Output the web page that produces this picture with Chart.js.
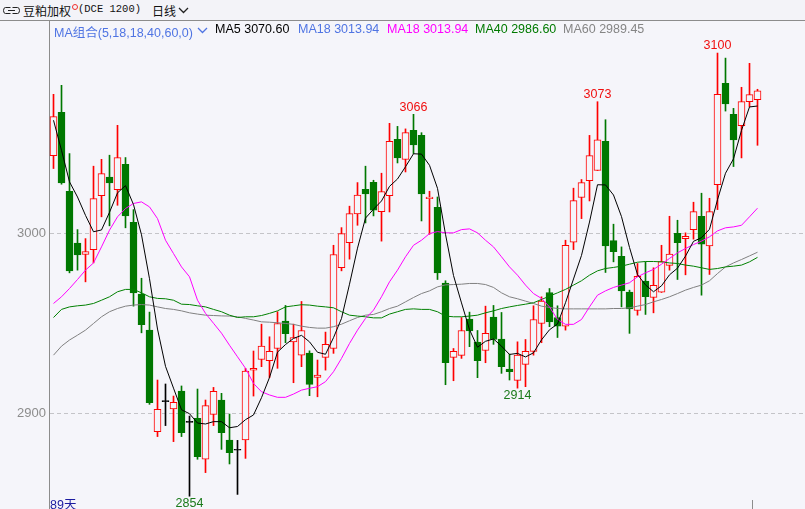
<!DOCTYPE html>
<html lang="zh">
<head>
<meta charset="UTF-8">
<meta name="viewport" content="width=device-width, initial-scale=1.0">
<title>豆粕加权 日线</title>
<script src="https://cdn.jsdelivr.net/npm/chart.js"></script>
<style>
  body { margin: 0; background: #f5f5fa; overflow: hidden; font-family: "Liberation Sans", Arial, "Noto Sans CJK SC", sans-serif; }
  #bar1 { position: absolute; left: 0; top: 0; width: 805px; height: 20px; background: #f3f3f8; border-bottom: 1px solid #8c8c8c; font-size: 12px; }
  #bar1 span, #bar2 span { position: absolute; white-space: nowrap; }
  #bar2 { position: absolute; left: 0; top: 21px; width: 805px; height: 16px; font-size: 12.5px; z-index: 2; }
  #chartBox { position: absolute; left: 0; top: 21px; width: 805px; height: 488px; }
  #days { position: absolute; left: 50px; top: 494px; font-size: 12.5px; color: #1c1ca0; }
  #tick { position: absolute; left: 752px; top: 500px; width: 1px; height: 9px; background: #8c8c8c; }
</style>
</head>
<body>
<div id="bar1">
  <svg style="position:absolute;left:3px;top:6px" width="17" height="9">
    <path d="M7.5 1.5 H2.5 Q0.5 1.5 0.5 4.5 Q0.5 7.5 2.5 7.5 H7.5" fill="none" stroke="#222"/>
    <path d="M9.5 1.5 H14.5 Q16.5 1.5 16.5 4.5 Q16.5 7.5 14.5 7.5 H9.5" fill="none" stroke="#222"/>
    <path d="M5 4.5 H12" stroke="#222"/>
  </svg>
  <span style="left:23px;top:2px;font-family:'Noto Sans CJK SC';color:#111">豆粕加权</span>
  <span style="left:72px;top:4px;width:4px;height:4px;border:1px solid #f03030;border-radius:50%"></span>
  <span style="left:78px;top:3px;font-family:'Liberation Mono',monospace;font-size:10.5px;color:#111">(DCE 1200)</span>
  <span style="left:152px;top:2px;font-family:'Noto Sans CJK SC';color:#111">日线</span>
  <svg style="position:absolute;left:178px;top:7px" width="11" height="7"><polyline points="1,1 5.5,5.5 10,1" fill="none" stroke="#222" stroke-width="1.3"/></svg>
</div>
<div id="bar2">
  <span style="left:54px;top:1px;color:#4f74e3">MA组合(5,18,18,40,60,0)</span>
  <svg style="position:absolute;left:197px;top:6px" width="11" height="7"><polyline points="1,1 5.5,5.5 10,1" fill="none" stroke="#4f74e3" stroke-width="1.3"/></svg>
  <span style="left:215px;top:1px;color:#000">MA5 3070.60</span>
  <span style="left:298px;top:1px;color:#4f74e3">MA18 3013.94</span>
  <span style="left:387px;top:1px;color:#ff00ff">MA18 3013.94</span>
  <span style="left:475px;top:1px;color:#007a00">MA40 2986.60</span>
  <span style="left:563px;top:1px;color:#858585">MA60 2989.45</span>
</div>
<div id="chartBox"><canvas id="kChart"></canvas></div>
<div id="days">89天</div>
<div id="tick"></div>
<script>
// daily OHLC, 89 sessions
var open = [3043.1,3067.1,3023.3,2994.5,2988.2,2990.9,3020.9,3031.1,3024.2,3038.3,
  3006.1,2966.2,2946.2,2889.8,2906.5,2902.4,2912.4,2895.0,2897.2,2874.5,
  2899.4,2907.4,2885.2,2879.5,2885.2,2924.0,2929.9,2929.2,2936.0,2951.2,
  2939.7,2932.3,2933.5,2920.0,2931.1,2936.0,2980.8,2994.8,3010.7,3024.4,
  3028.3,3012.0,3020.9,3052.1,3040.9,3057.1,3054.3,3019.2,3014.4,2972.3,
  2931.1,2932.2,2952.3,2939.6,2934.9,2953.4,2941.2,2924.6,2918.3,2927.2,
  2934.4,2949.9,2967.1,2953.2,2948.4,2995.0,3019.8,3029.2,3034.8,3051.0,
  2995.9,2987.2,2967.3,2957.1,2973.4,2964.3,2967.3,2982.1,3000.0,2996.9,
  3002.0,3009.4,2993.0,3027.0,3083.2,3066.0,3059.7,3073.0,3074.1];
var high = [3077.1,3082.1,3044.2,3002.0,2997.0,3037.2,3041.0,3043.3,3059.9,3042.0,
  3013.1,2975.0,2956.2,2918.5,2916.3,2909.6,2915.2,2898.5,2913.5,2907.4,
  2914.4,2911.1,2899.6,2885.0,2925.0,2934.6,2949.5,2942.5,2956.4,2959.9,
  2949.5,2962.1,2934.7,2929.6,2945.1,2993.3,3003.1,3015.0,3028.1,3037.2,
  3029.4,3033.3,3061.0,3059.3,3057.9,3066.0,3055.8,3023.3,3020.1,2973.6,
  2936.0,2953.2,2956.2,2946.0,2959.5,2959.9,2956.0,2932.9,2939.7,2941.0,
  2959.7,2964.7,2969.3,2959.7,2996.1,3025.0,3029.8,3054.3,3073.0,3063.0,
  3005.0,2992.4,2968.4,2983.2,2984.1,2980.8,2993.3,3009.4,3007.2,3000.2,
  3017.2,3022.2,3019.4,3100.0,3097.2,3069.3,3081.0,3094.3,3079.9];
var low = [3035.9,3027.2,2978.0,2979.5,2973.0,2983.5,3009.1,3004.1,3015.5,3003.0,
  2959.5,2944.7,2905.0,2887.1,2893.2,2884.3,2887.1,2854.0,2874.5,2867.1,
  2893.2,2880.0,2871.9,2855.0,2875.0,2909.6,2925.9,2919.8,2925.0,2939.2,
  2917.0,2925.9,2909.8,2909.2,2924.0,2933.3,2979.1,2985.6,3004.4,3005.7,
  3009.6,2995.6,3011.8,3039.0,3034.0,3044.2,3006.8,2999.4,2974.3,2915.9,
  2918.1,2930.5,2937.0,2919.8,2928.1,2938.3,2922.2,2918.5,2914.0,2914.8,
  2932.3,2939.2,2948.1,2942.1,2946.2,2990.9,3008.1,3017.9,3034.8,2978.2,
  2984.1,2959.1,2944.4,2954.5,2954.9,2955.8,2967.1,2979.5,2974.3,2976.9,
  2996.7,2965.6,2977.1,3013.1,3067.8,3037.0,3041.8,3070.2,3048.8];
var close = [3064.7,3027.9,2979.1,2988.0,2989.8,3019.2,3033.1,3027.9,3042.0,3009.6,
  2966.9,2949.2,2905.9,2902.2,2906.5,2906.1,2889.3,2895.0,2876.0,2904.3,
  2912.2,2889.3,2878.2,2879.5,2923.5,2925.0,2937.3,2934.4,2949.9,2944.2,
  2942.1,2946.0,2916.1,2921.3,2938.3,2988.2,2999.8,3010.9,3021.1,3021.8,
  3012.8,3023.1,3051.0,3041.8,3055.8,3049.0,3021.8,3020.0,2978.0,2928.1,
  2934.4,2946.0,2945.8,2929.2,2944.4,2941.0,2925.9,2923.1,2932.3,2934.4,
  2952.1,2962.3,2950.8,2948.4,2993.2,3018.1,3028.1,3043.1,3051.9,2993.0,
  2989.8,2968.0,2958.0,2976.0,2964.7,2971.0,2984.3,2988.4,2994.8,2998.2,
  3012.0,2993.9,3012.0,3077.1,3071.7,3051.8,3073.0,3076.9,3079.1];

// moving averages
var ma5 = [3062.7,3046.0,3028.5,3020.1,3009.9,3000.8,3001.8,3011.6,3022.4,3026.4,
  3015.9,2999.1,2974.7,2946.8,2926.1,2914.0,2902.0,2899.8,2894.6,2894.1,
  2895.4,2895.4,2892.0,2892.7,2896.5,2899.1,2908.7,2919.9,2934.0,2938.2,
  2941.6,2943.3,2939.7,2933.9,2932.8,2942.0,2952.7,2971.7,2991.7,3008.4,
  3013.3,3017.9,3026.0,3030.1,3036.9,3044.1,3043.9,3037.7,3024.9,2999.4,
  2976.5,2961.3,2946.5,2936.7,2940.0,2941.3,2937.3,2932.7,2933.3,2931.3,
  2933.6,2940.8,2946.4,2949.6,2961.4,2974.6,2987.7,3006.2,3026.9,3026.8,
  3021.2,3009.2,2992.1,2977.0,2971.3,2967.5,2970.8,2976.9,2980.6,2987.3,
  2995.5,2997.5,3002.2,3018.6,3033.3,3041.3,3057.1,3070.1,3070.6];
var ma18 = [2961.0,2964.7,2969.3,2974.3,2979.5,2983.5,2992.4,3001.7,3009.1,3013.7,
  3016.5,3017.4,3014.6,3008.1,2996.1,2988.7,2981.3,2975.8,2962.8,2955.5,
  2950.0,2944.5,2937.8,2931.4,2925.0,2916.6,2912.0,2910.2,2908.9,2908.9,
  2910.7,2912.9,2913.9,2914.8,2917.6,2923.1,2930.5,2938.8,2946.2,2952.7,
  2957.3,2964.7,2973.0,2979.5,2986.9,2993.3,2996.1,2999.8,3000.9,3000.2,
  3000.2,3002.0,3002.4,3000.2,2996.1,2992.4,2986.9,2981.3,2976.7,2971.2,
  2966.5,2963.8,2959.1,2952.1,2949.4,2949.4,2952.1,2959.1,2965.6,2968.0,
  2969.9,2971.2,2972.5,2975.8,2978.0,2979.9,2982.8,2986.0,2989.1,2991.5,
  2993.7,2995.6,2998.0,3001.3,3003.0,3003.5,3004.4,3009.1,3013.9];
var ma40 = [2953.2,2957.7,2959.1,2959.7,2960.1,2961.0,2962.8,2964.7,2967.5,2968.8,
  2968.8,2966.9,2964.7,2963.8,2963.6,2962.8,2960.6,2960.4,2959.7,2959.1,
  2957.7,2956.4,2954.5,2953.2,2953.6,2953.6,2954.3,2955.5,2956.9,2959.1,
  2959.7,2960.3,2960.1,2959.5,2959.1,2958.6,2956.4,2954.5,2954.0,2953.6,
  2953.0,2953.0,2955.1,2956.4,2957.7,2958.0,2957.7,2957.7,2956.4,2954.0,
  2953.6,2953.6,2954.0,2954.5,2955.8,2956.9,2958.2,2959.1,2959.9,2960.6,
  2961.4,2963.2,2965.1,2966.9,2968.8,2971.2,2973.6,2976.7,2979.1,2980.4,
  2981.0,2981.7,2982.8,2983.9,2984.3,2984.3,2984.1,2983.5,2983.2,2982.3,
  2981.7,2980.8,2979.9,2980.4,2981.3,2981.7,2982.3,2984.1,2986.6];
var ma60 = [2932.3,2937.3,2940.7,2943.4,2946.2,2949.9,2953.6,2956.4,2958.2,2959.5,
  2960.1,2960.4,2960.1,2959.1,2958.2,2957.7,2956.9,2955.8,2955.1,2954.5,
  2954.3,2954.1,2954.0,2953.6,2952.7,2951.8,2950.8,2950.6,2950.3,2949.9,
  2949.4,2948.4,2947.7,2947.3,2947.3,2948.1,2949.5,2951.4,2953.2,2954.5,
  2954.9,2956.4,2958.2,2959.5,2961.9,2964.3,2966.5,2968.0,2970.2,2971.3,
  2971.5,2971.7,2972.1,2972.1,2971.5,2969.9,2966.9,2964.7,2963.6,2962.3,
  2961.0,2959.5,2958.8,2958.2,2958.0,2958.0,2958.0,2958.0,2958.0,2958.0,
  2958.2,2958.2,2958.6,2959.5,2960.4,2961.9,2963.2,2964.7,2966.5,2968.4,
  2969.9,2971.2,2973.6,2977.6,2981.3,2983.5,2985.4,2987.4,2989.45];

var yTicks = [2900, 3000];
var peakIdx = [45, 68, 83];
var peakText = ['3066', '3073', '3100'];
var troughIdx = [17, 58];
var troughText = ['2854', '2914'];

var BG = '#f5f5fa', UP = '#ff0000', DOWN = '#007800', FLAT = '#000000';
var FONT = '"Liberation Sans", Arial, sans-serif';

var idx = open.map(function (_, i) { return i; });
var candleColor = idx.map(function (i) {
  return close[i] > open[i] ? UP : (close[i] < open[i] ? DOWN : FLAT);
});
var bodyFill = idx.map(function (i) { return close[i] > open[i] ? BG : candleColor[i]; });

function maSet(label, vals, color) {
  return {
    type: 'line', label: label,
    data: idx.map(function (i) { return { x: i, y: vals[i] }; }),
    borderColor: color, borderWidth: 1, pointRadius: 0, tension: 0, order: 0
  };
}

var markPlugin = {
  id: 'marks',
  afterDatasetsDraw: function (chart) {
    var ctx = chart.ctx, xs = chart.scales.x, ys = chart.scales.y;
    ctx.save();
    ctx.font = '12.5px ' + FONT;
    ctx.textAlign = 'center';
    ctx.fillStyle = '#f01010';
    ctx.textBaseline = 'bottom';
    peakIdx.forEach(function (k, j) {
      ctx.fillText(peakText[j], xs.getPixelForValue(k), ys.getPixelForValue(high[k]) - 1);
    });
    ctx.fillStyle = '#1a7a1a';
    ctx.textBaseline = 'top';
    troughIdx.forEach(function (k, j) {
      ctx.fillText(troughText[j], xs.getPixelForValue(k), ys.getPixelForValue(low[k]) + 1);
    });
    ctx.restore();
  }
};

var ctx = document.getElementById('kChart').getContext('2d');
var kChart = new Chart(ctx, {
  type: 'bar',
  data: {
    datasets: [
      maSet('MA5', ma5, '#000000'),
      maSet('MA18', ma18, '#ff00ff'),
      maSet('MA40', ma40, '#008000'),
      maSet('MA60', ma60, '#808080'),
      {
        label: 'body',
        data: idx.map(function (i) { return { x: i, y: [open[i], close[i]] }; }),
        backgroundColor: bodyFill,
        borderColor: candleColor,
        borderWidth: 1,
        borderSkipped: false,
        barThickness: 7,
        minBarLength: 1,
        grouped: false,
        order: 1
      },
      {
        label: 'wick',
        data: idx.map(function (i) { return { x: i, y: [low[i], high[i]] }; }),
        backgroundColor: candleColor,
        borderWidth: 0,
        barThickness: 1,
        grouped: false,
        order: 2
      }
    ]
  },
  options: {
    responsive: true,
    maintainAspectRatio: false,
    animation: false,
    layout: { padding: 0 },
    plugins: { legend: { display: false }, tooltip: { enabled: false } },
    scales: {
      x: {
        type: 'linear', display: false, offset: false, bounds: 'data',
        min: -0.5625, max: 93.9375, grid: { offset: false }
      },
      y: {
        position: 'left',
        min: 2846.9,
        max: 3117.8,
        afterBuildTicks: function (s) { s.ticks = yTicks.map(function (v) { return { value: v }; }); },
        afterFit: function (s) { s.width = 49; s.paddingTop = 0; s.paddingBottom = 0; },
        ticks: {
          color: '#8c8c8c', font: { size: 13, family: FONT }, padding: 3,
          callback: function (v) { return String(v); }
        },
        grid: { color: '#c4c4c8', drawTicks: false },
        border: { color: '#8c8c8c', width: 1, dash: [4, 3] }
      }
    }
  },
  plugins: [markPlugin]
});
</script>
</body>
</html>
